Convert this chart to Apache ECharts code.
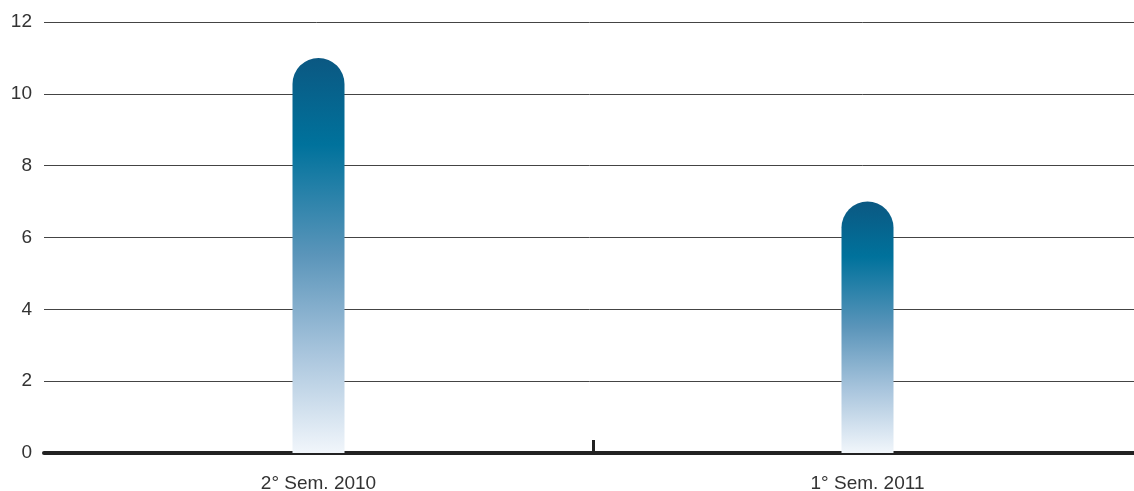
<!DOCTYPE html>
<html>
<head>
<meta charset="utf-8">
<script src="https://cdn.jsdelivr.net/npm/echarts@6/dist/echarts.min.js"></script>
<style>
  html, body { margin: 0; padding: 0; background: #ffffff; }
  #chart { width: 1134px; height: 491px; }
</style>
</head>
<body>
<div id="chart"></div>
<script>
// Semesters and their values
const categories = ['2° Sem. 2010', '1° Sem. 2011'];
const values = [11, 7];
const yTicks = [0, 2, 4, 6, 8, 10, 12];

const chart = echarts.init(document.getElementById('chart'), null, { renderer: 'canvas' });

const barGradient = new echarts.graphic.LinearGradient(0, 0, 0, 1, [
  { offset: 0, color: '#0b5882' },
  { offset: 0.22, color: '#00729c' },
  { offset: 0.5, color: '#5b95ba' },
  { offset: 0.75, color: '#a9c5dd' },
  { offset: 1, color: '#f1f6fb' }
]);

const font = 'Liberation Sans, Arial, sans-serif';

chart.setOption({
  animation: false,
  backgroundColor: '#ffffff',
  grid: { left: 44, right: -8, top: 22, bottom: 38, outerBoundsMode: 'none', containLabel: false },
  xAxis: [{
    type: 'category',
    data: categories,
    boundaryGap: true,
    axisLine: { show: true, lineStyle: { color: '#222222', width: 4 } },
    axisTick: { show: false },
    axisLabel: {
      color: '#333333',
      fontSize: 19,
      fontFamily: font,
      margin: 21
    }
  }, {
    // helper axis: only the divider tick between the two semesters
    type: 'category',
    position: 'bottom',
    data: ['', '', ''],
    boundaryGap: false,
    axisLine: { show: false },
    axisLabel: { show: false },
    splitLine: { show: false },
    axisTick: {
      show: true,
      inside: true,
      length: 13,
      interval: function (index) { return index === 1; },
      lineStyle: { color: '#222222', width: 3 }
    }
  }],
  yAxis: {
    type: 'value',
    min: yTicks[0],
    max: yTicks[yTicks.length - 1],
    interval: 2,
    axisLine: { show: false },
    axisTick: { show: false },
    axisLabel: {
      color: '#333333',
      fontSize: 19,
      fontFamily: font,
      margin: 12
    },
    splitLine: { show: true, lineStyle: { color: '#444444', width: 1 } }
  },
  series: [{
    type: 'bar',
    xAxisIndex: 0,
    data: values,
    barWidth: 52,
    itemStyle: {
      color: barGradient,
      borderRadius: [26, 26, 0, 0]
    }
  }]
});
</script>
</body>
</html>
